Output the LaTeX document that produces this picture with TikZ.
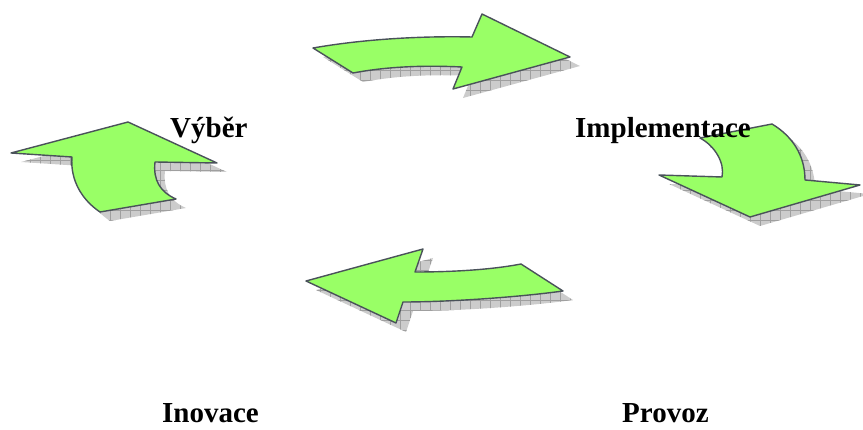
\documentclass[tikz,border=0pt]{standalone}
\usepackage{fontspec}
\setmainfont{Liberation Serif}
\usetikzlibrary{patterns.meta}
\definecolor{arrowgreen}{HTML}{99FF66}
\definecolor{arrowedge}{HTML}{4A525A}
\begin{document}
\begin{tikzpicture}[x=1pt,y=-1pt,
  arrowbody/.style={fill=arrowgreen, draw=arrowedge, line width=1.4pt, line join=round},
  arrowshadow/.style={shift={(10,9)}, preaction={fill=gray!40}, pattern={Hatch[distance=10pt,angle=0,line width=0.4pt]}, pattern color=gray!75},
  lbl/.style={anchor=base west, inner sep=0pt, text depth=0pt, font=\fontsize{29}{30}\selectfont\bfseries}]
\useasboundingbox (0,0) rectangle (863,430);
\def\toparrow{(313,48) .. controls (370,38) and (430,36) .. (472,37) -- (482,14) -- (570,57) -- (453,89) -- (462,67) .. controls (420,65) and (385,67) .. (353,73) -- cycle}
\def\leftarrow{(11,153) -- (128,122) -- (217,163) -- (155,162) .. controls (153,180) and (160,192) .. (176,199) -- (100,212) .. controls (82,200) and (70,180) .. (72,157) -- cycle}
\def\rightarrowpath{(700,138) -- (772,124) .. controls (792,136) and (805,155) .. (805,180) -- (860,185) -- (750,217) -- (659,175) -- (722,177) .. controls (725,163) and (715,146) .. (700,138) -- cycle}
\def\bottomarrow{(306,281) -- (423,249) -- (415,272) .. controls (450,272) and (490,270) .. (521,264) -- (563,291) .. controls (520,297) and (450,302) .. (403,302) -- (396,323) -- cycle}
% shadows
\path[arrowshadow] \toparrow;
\path[arrowshadow] \leftarrow;
\path[arrowshadow] \rightarrowpath;
\path[arrowshadow] \bottomarrow;
% arrows
\path[arrowbody] \toparrow;
\path[arrowbody] \leftarrow;
\path[arrowbody] \rightarrowpath;
\path[arrowbody] \bottomarrow;
% labels
\node[lbl] (vyber) at (170,138) {Výběr};
\node[lbl] (impl) at (575,138) {Implementace};
\node[lbl] (inov) at (162,423) {Inovace};
\node[lbl] (provoz) at (622,423) {Provoz};
\end{tikzpicture}
\end{document}
